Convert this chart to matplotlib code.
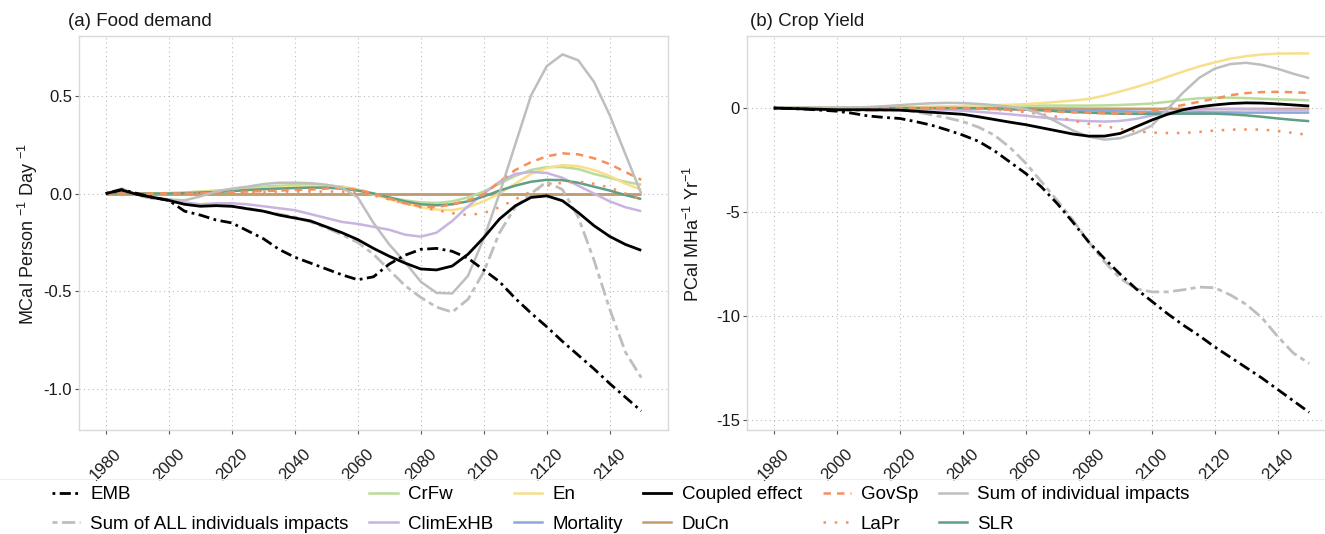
import numpy as np
import matplotlib
matplotlib.use('Agg')
import matplotlib.pyplot as plt
from matplotlib.lines import Line2D

plt.rcParams['font.family'] = ['Liberation Sans', 'DejaVu Sans']
plt.rcParams['mathtext.default'] = 'regular'

years = np.arange(1980, 2151, 5)

# (a) food demand, MCal person-1 day-1
emb_a = [0.0, 0.02, 0.0, -0.02, -0.035, -0.09, -0.11, -0.135, -0.15, -0.19, -0.23, -0.285,
         -0.325, -0.355, -0.385, -0.415, -0.44, -0.425, -0.36, -0.315, -0.285, -0.28, -0.295,
         -0.33, -0.39, -0.45, -0.535, -0.61, -0.68, -0.755, -0.825, -0.895, -0.97, -1.04, -1.11]
sum_all_a = [0.0, 0.02, -0.01, -0.025, -0.03, -0.05, -0.06, -0.06, -0.065, -0.075, -0.09, -0.105,
             -0.12, -0.145, -0.175, -0.21, -0.25, -0.31, -0.39, -0.47, -0.53, -0.58, -0.605,
             -0.54, -0.4, -0.2, -0.07, 0.0, 0.06, 0.02, -0.12, -0.34, -0.59, -0.81, -0.94]
coupled_a = [0.0, 0.018, -0.005, -0.02, -0.035, -0.055, -0.065, -0.062, -0.065, -0.078, -0.09,
             -0.11, -0.125, -0.14, -0.17, -0.2, -0.235, -0.28, -0.32, -0.355, -0.385, -0.39,
             -0.37, -0.31, -0.225, -0.13, -0.063, -0.02, -0.012, -0.037, -0.097, -0.164,
             -0.219, -0.26, -0.29]
sum_ind_a = [0.0, 0.025, -0.005, -0.025, -0.03, -0.035, -0.015, 0.01, 0.025, 0.035, 0.048, 0.055,
             0.055, 0.053, 0.045, 0.03, -0.02, -0.15, -0.26, -0.35, -0.45, -0.507, -0.51, -0.42,
             -0.23, 0.0, 0.25, 0.5, 0.65, 0.71, 0.68, 0.57, 0.4, 0.2, 0.0]
climex_a = [0.0, 0.015, -0.005, -0.02, -0.03, -0.045, -0.055, -0.05, -0.05, -0.055, -0.065,
            -0.075, -0.085, -0.105, -0.125, -0.145, -0.155, -0.17, -0.185, -0.21, -0.22, -0.2,
            -0.14, -0.065, 0.0, 0.06, 0.1, 0.11, 0.105, 0.08, 0.04, 0.0, -0.04, -0.07, -0.09]
govsp_a = [0.0, 0.0, 0.0, 0.0, 0.0, 0.0, 0.0, 0.005, 0.008, 0.01, 0.012, 0.015, 0.018, 0.02,
           0.025, 0.028, 0.02, 0.0, -0.025, -0.05, -0.065, -0.07, -0.055, -0.035, -0.005, 0.06,
           0.12, 0.16, 0.19, 0.205, 0.2, 0.18, 0.15, 0.11, 0.07]
lapr_a = [0.0, 0.0, 0.0, 0.0, 0.0, 0.0, 0.0, 0.003, 0.005, 0.007, 0.008, 0.01, 0.01, 0.01, 0.01,
          0.01, 0.005, -0.01, -0.03, -0.05, -0.07, -0.085, -0.1, -0.11, -0.1, -0.07, -0.03,
          0.01, 0.04, 0.055, 0.06, 0.05, 0.03, 0.0, -0.03]
crfw_a = [0.0, 0.0, 0.0, 0.0, 0.002, 0.005, 0.01, 0.015, 0.02, 0.03, 0.035, 0.04, 0.043, 0.045,
          0.042, 0.035, 0.02, 0.0, -0.02, -0.035, -0.045, -0.048, -0.04, -0.02, 0.01, 0.05,
          0.09, 0.12, 0.135, 0.135, 0.125, 0.1, 0.08, 0.06, 0.045]
en_a = [0.0, 0.0, 0.0, 0.0, 0.002, 0.005, 0.008, 0.012, 0.015, 0.02, 0.025, 0.03, 0.035, 0.038,
        0.04, 0.035, 0.02, -0.005, -0.03, -0.05, -0.07, -0.082, -0.085, -0.07, -0.04, 0.0,
        0.05, 0.1, 0.13, 0.145, 0.14, 0.12, 0.09, 0.05, 0.02]
slr_a = [0.0, 0.0, 0.0, 0.0, 0.0, 0.002, 0.005, 0.008, 0.012, 0.018, 0.022, 0.025, 0.028, 0.03,
         0.03, 0.025, 0.015, 0.0, -0.02, -0.04, -0.055, -0.06, -0.055, -0.04, -0.015, 0.015,
         0.04, 0.06, 0.07, 0.068, 0.055, 0.035, 0.015, -0.008, -0.028]
mortality_a = [0.0, 0.0, 0.0, 0.0, 0.0, 0.0, 0.0, 0.0, 0.0, 0.0, 0.0, 0.0, 0.0, 0.0, 0.0, 0.0,
               0.0, 0.0, 0.0, 0.0, 0.0, 0.0, 0.0, 0.0, 0.0, 0.0, 0.0, 0.0, 0.0, 0.0, 0.0, 0.0,
               0.0, 0.0, 0.0]
ducn_a = [0.0, 0.0, 0.0, 0.0, 0.0, 0.0, 0.0, 0.0, 0.0, 0.0, 0.0, 0.0, 0.0, 0.0, 0.0, 0.0, 0.0,
          0.0, 0.0, 0.0, 0.0, 0.0, 0.0, 0.0, 0.0, 0.0, 0.0, 0.0, 0.0, 0.0, 0.0, 0.0, 0.0, 0.0,
          0.0]

# (b) crop yield, PCal MHa-1 yr-1
emb_b = [0.0, -0.02, -0.05, -0.1, -0.15, -0.25, -0.38, -0.45, -0.5, -0.65, -0.82, -1.05, -1.3,
         -1.6, -2.05, -2.6, -3.15, -3.8, -4.6, -5.5, -6.45, -7.25, -8.0, -8.7, -9.3, -9.9,
         -10.45, -10.95, -11.5, -12.0, -12.5, -13.0, -13.55, -14.1, -14.65]
sum_all_b = [0.0, -0.02, -0.05, -0.08, -0.1, -0.12, -0.13, -0.1, -0.08, -0.18, -0.32, -0.47,
             -0.65, -0.92, -1.3, -1.9, -2.65, -3.55, -4.45, -5.4, -6.45, -7.4, -8.2, -8.7,
             -8.85, -8.85, -8.75, -8.62, -8.65, -9.0, -9.45, -10.1, -11.0, -11.8, -12.3]
coupled_b = [0.0, -0.02, -0.04, -0.06, -0.08, -0.08, -0.08, -0.09, -0.1, -0.15, -0.2, -0.25,
             -0.3, -0.42, -0.55, -0.68, -0.8, -0.95, -1.1, -1.25, -1.35, -1.35, -1.22, -0.9,
             -0.58, -0.3, -0.08, 0.06, 0.15, 0.22, 0.25, 0.24, 0.2, 0.15, 0.1]
sum_ind_b = [0.0, 0.0, 0.0, 0.0, 0.0, 0.02, 0.05, 0.09, 0.14, 0.19, 0.23, 0.25, 0.24, 0.2, 0.14,
             0.06, -0.05, -0.3, -0.68, -1.08, -1.38, -1.52, -1.45, -1.2, -0.85, -0.05, 0.75,
             1.45, 1.9, 2.12, 2.18, 2.08, 1.89, 1.65, 1.44]
en_b = [0.0, 0.0, 0.0, 0.0, 0.0, 0.005, 0.01, 0.015, 0.02, 0.04, 0.06, 0.08, 0.1, 0.12, 0.14,
        0.16, 0.19, 0.24, 0.3, 0.36, 0.44, 0.6, 0.8, 1.01, 1.24, 1.5, 1.76, 2.0, 2.2, 2.38,
        2.5, 2.58, 2.62, 2.63, 2.63]
govsp_b = [0.0, 0.0, 0.0, 0.0, 0.0, 0.0, 0.0, 0.0, 0.0, 0.0, 0.0, 0.0, 0.0, -0.02, -0.05, -0.08,
           -0.1, -0.14, -0.17, -0.2, -0.22, -0.25, -0.27, -0.24, -0.15, 0.0, 0.15, 0.3, 0.45,
           0.62, 0.72, 0.77, 0.78, 0.76, 0.73]
lapr_b = [0.0, 0.0, 0.0, 0.0, 0.0, 0.0, 0.0, 0.0, 0.0, 0.0, 0.0, 0.0, 0.0, -0.03, -0.08, -0.13,
          -0.2, -0.3, -0.42, -0.6, -0.76, -0.88, -1.0, -1.12, -1.18, -1.2, -1.2, -1.15, -1.08,
          -1.04, -1.03, -1.04, -1.1, -1.2, -1.3]
climex_b = [0.0, 0.0, 0.0, 0.0, 0.0, 0.0, 0.0, 0.0, -0.02, -0.04, -0.06, -0.09, -0.13, -0.18,
            -0.24, -0.3, -0.37, -0.45, -0.53, -0.59, -0.63, -0.65, -0.62, -0.52, -0.36, -0.22,
            -0.12, -0.08, -0.06, -0.06, -0.06, -0.07, -0.08, -0.09, -0.1]
crfw_b = [0.0, 0.0, 0.0, 0.0, 0.0, 0.0, 0.01, 0.02, 0.03, 0.04, 0.05, 0.06, 0.07, 0.08, 0.1,
          0.11, 0.12, 0.12, 0.12, 0.12, 0.12, 0.13, 0.15, 0.18, 0.22, 0.3, 0.4, 0.47, 0.5, 0.5,
          0.48, 0.45, 0.42, 0.4, 0.37]
slr_b = [0.0, 0.0, 0.0, 0.0, 0.0, 0.0, 0.0, 0.0, 0.0, 0.0, 0.0, 0.0, 0.0, -0.01, -0.03, -0.06,
         -0.08, -0.11, -0.15, -0.19, -0.22, -0.25, -0.27, -0.28, -0.28, -0.28, -0.27, -0.27,
         -0.27, -0.3, -0.35, -0.42, -0.5, -0.57, -0.63]
mortality_b = [0.0, 0.0, 0.0, 0.0, 0.0, 0.0, 0.0, 0.0, 0.0, 0.0, 0.0, 0.0, 0.0, 0.0, 0.0, -0.01,
               -0.03, -0.05, -0.07, -0.09, -0.11, -0.13, -0.15, -0.17, -0.18, -0.19, -0.2, -0.2,
               -0.21, -0.21, -0.22, -0.22, -0.22, -0.22, -0.22]
ducn_b = [0.0, 0.0, 0.0, 0.0, 0.0, 0.0, 0.0, 0.0, 0.0, 0.0, 0.0, 0.0, 0.0, 0.0, 0.0, -0.005,
          -0.01, -0.015, -0.02, -0.025, -0.03, -0.03, -0.03, -0.035, -0.035, -0.035, -0.04,
          -0.04, -0.04, -0.04, -0.04, -0.04, -0.04, -0.04, -0.04]

grey = '#BEBEBE'
orange = '#F5905E'
styles = {
    'EMB': dict(color='black', lw=2.0, ls=(0, (1, 1.6, 4, 1.6))),
    'Sum of ALL individuals impacts': dict(color=grey, lw=2.0, ls=(0, (1.8, 1.6, 4.8, 1.6))),
    'CrFw': dict(color='#B9DC98', lw=1.8, ls='-'),
    'ClimExHB': dict(color='#C8B4E0', lw=1.8, ls='-'),
    'En': dict(color='#F7DF8C', lw=1.8, ls='-'),
    'Mortality': dict(color='#8EA6DA', lw=1.8, ls='-'),
    'Coupled effect': dict(color='black', lw=2.0, ls='-'),
    'DuCn': dict(color='#C29B6E', lw=1.8, ls='-'),
    'GovSp': dict(color=orange, lw=1.8, ls=(0, (3, 2.4))),
    'LaPr': dict(color=orange, lw=1.8, ls=(0, (1, 3.5))),
    'Sum of individual impacts': dict(color=grey, lw=1.8, ls='-'),
    'SLR': dict(color='#5F9F85', lw=1.8, ls='-'),
}
legend_order = ['EMB', 'Sum of ALL individuals impacts', 'CrFw', 'ClimExHB', 'En', 'Mortality',
                'Coupled effect', 'DuCn', 'GovSp', 'LaPr', 'Sum of individual impacts', 'SLR']
draw_order = ['Mortality', 'DuCn', 'CrFw', 'En', 'ClimExHB', 'SLR', 'GovSp', 'LaPr',
              'Sum of individual impacts', 'Sum of ALL individuals impacts', 'EMB',
              'Coupled effect']

series_a = {'EMB': emb_a, 'Sum of ALL individuals impacts': sum_all_a, 'CrFw': crfw_a,
            'ClimExHB': climex_a, 'En': en_a, 'Mortality': mortality_a,
            'Coupled effect': coupled_a, 'DuCn': ducn_a, 'GovSp': govsp_a, 'LaPr': lapr_a,
            'Sum of individual impacts': sum_ind_a, 'SLR': slr_a}
series_b = {'EMB': emb_b, 'Sum of ALL individuals impacts': sum_all_b, 'CrFw': crfw_b,
            'ClimExHB': climex_b, 'En': en_b, 'Mortality': mortality_b,
            'Coupled effect': coupled_b, 'DuCn': ducn_b, 'GovSp': govsp_b, 'LaPr': lapr_b,
            'Sum of individual impacts': sum_ind_b, 'SLR': slr_b}

W, H = 1325, 534
fig = plt.figure(figsize=(W / 100, H / 100), dpi=100)


def panel(left_px, series, ylim, yticks, yticklabels):
    ax = fig.add_axes([left_px / W, (H - 430) / H, 589 / W, 394 / H])
    for name in draw_order:
        st = styles[name]
        ax.plot(years, series[name], color=st['color'], lw=st['lw'], ls=st['ls'],
                solid_capstyle='butt', dash_capstyle='butt', solid_joinstyle='round')
    ax.set_xlim(1971.5, 2158.5)
    ax.set_ylim(*ylim)
    ax.set_xticks(np.arange(1980, 2141, 20))
    ax.set_xticklabels([str(y) for y in range(1980, 2141, 20)], rotation=45, ha='center',
                       va='top', fontsize=12)
    ax.set_yticks(yticks)
    ax.set_yticklabels(yticklabels, fontsize=12)
    ax.grid(True, color='#BBBBBB', lw=0.8, ls=(0, (1, 3)))
    ax.set_axisbelow(True)
    for sp in ax.spines.values():
        sp.set_color('#D9D9D9')
        sp.set_linewidth(1.0)
    ax.tick_params(axis='both', color='#555555', length=3, width=0.8, labelcolor='#1a1a1a')
    ax.tick_params(axis='x', pad=9)
    ax.tick_params(axis='y', pad=2)
    return ax


panel(79, series_a, (-1.207, 0.804), [-1.0, -0.5, 0.0, 0.5], ['-1.0', '-0.5', '0.0', '0.5'])
panel(747, series_b, (-15.5, 3.47), [-15, -10, -5, 0], ['-15', '-10', '-5', '0'])

fig.text(68 / W, 1 - 26 / H, '(a) Food demand', fontsize=13.5, va='baseline', ha='left',
         color='#1a1a1a')
fig.text(750 / W, 1 - 26 / H, '(b) Crop Yield', fontsize=13.5, va='baseline', ha='left',
         color='#1a1a1a')
fig.text(28 / W, 1 - 234 / H, r'MCal Person $^{-1}$ Day $^{-1}$', rotation=90, fontsize=13,
         ha='center', va='center', color='#1a1a1a')
fig.text(693 / W, 1 - 234 / H, r'PCal MHa$^{-1}$ Yr$^{-1}$', rotation=90, fontsize=13,
         ha='center', va='center', color='#1a1a1a')

# faint separator above the legend
fig.add_artist(Line2D([0, 1], [1 - 479 / H, 1 - 479 / H], color='#EEEEEE', lw=0.8,
                      transform=fig.transFigure))

handles = [Line2D([], [], color=styles[n]['color'], lw=styles[n]['lw'], ls=styles[n]['ls'],
                  dash_capstyle='butt') for n in legend_order]
fig.legend(handles, legend_order, loc='center left', bbox_to_anchor=(52 / W, 1 - 509.5 / H),
           ncol=6, frameon=False, fontsize=13.5, handlelength=1.5, handletextpad=0.55,
           columnspacing=1.1, labelspacing=0.65, borderpad=0, borderaxespad=0)

fig.savefig('out.png', dpi=100)
